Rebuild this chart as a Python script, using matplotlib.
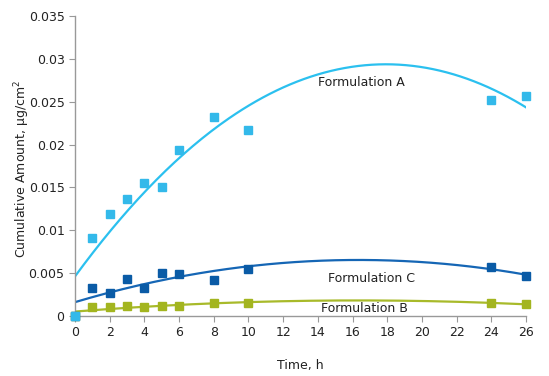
import numpy as np
import matplotlib
matplotlib.use("Agg")
import matplotlib.pyplot as plt

time_h = [0, 1, 2, 3, 4, 5, 6, 8, 10, 24, 26]
form_a = [0.0, 0.0091, 0.0119, 0.0137, 0.0155, 0.0151, 0.0194, 0.0232, 0.0217, 0.0252, 0.0257]
form_c = [0.0, 0.0033, 0.0027, 0.0043, 0.0033, 0.0050, 0.0049, 0.0042, 0.0055, 0.0057, 0.0047]
form_b = [0.0, 0.0010, 0.0010, 0.0012, 0.0010, 0.0012, 0.0012, 0.0015, 0.0015, 0.0015, 0.0014]

x_ticks = list(range(0, 27, 2))
y_ticks = [0, 0.005, 0.01, 0.015, 0.02, 0.025, 0.03, 0.035]
y_tick_labels = ["0", "0.005", "0.01", "0.015", "0.02", "0.025", "0.03", "0.035"]

col_a_pt, col_a_ln = "#33B9EA", "#2BC0EF"
col_c_pt, col_c_ln = "#0A5BA6", "#1566B5"
col_b_pt, col_b_ln = "#A3B51F", "#A8BA2A"

plt.rcParams['font.family'] = ['DejaVu Sans']
fig = plt.figure(figsize=(5.49, 3.76), dpi=100)
ax = fig.add_axes([0.1366, 0.1596, 0.8214, 0.7978])

t = np.array(time_h, dtype=float)
tt = np.linspace(0, 26, 200)
for vals, cl in [(form_b, col_b_ln), (form_c, col_c_ln), (form_a, col_a_ln)]:
    coef = np.polyfit(t, np.array(vals), 2)
    ax.plot(tt, np.polyval(coef, tt), color=cl, lw=1.6, zorder=2)
for vals, cp in [(form_b, col_b_pt), (form_c, col_c_pt), (form_a, col_a_pt)]:
    ax.plot(time_h, vals, ls='none', marker='s', ms=5.8, color=cp, mec=cp, zorder=3, clip_on=False)

ax.text(14.0, 0.0272, "Formulation A", fontsize=9, va='center', ha='left', color='#222222')
ax.text(14.6, 0.0044, "Formulation C", fontsize=9, va='center', ha='left', color='#222222')
ax.text(14.2, 0.0009, "Formulation B", fontsize=9, va='center', ha='left', color='#222222')

ax.set_xlim(0, 26)
ax.set_ylim(0, 0.035)
ax.set_xticks(x_ticks)
ax.set_xticklabels([str(v) for v in x_ticks])
ax.set_yticks(y_ticks)
ax.set_yticklabels(y_tick_labels)
for s in ['top', 'right']:
    ax.spines[s].set_visible(False)
for s in ['left', 'bottom']:
    ax.spines[s].set_color('#999999')
    ax.spines[s].set_linewidth(1.0)
ax.tick_params(axis='both', colors='#999999', labelcolor='#222222', labelsize=9, length=4, width=0.8)
ax.set_xlabel("Time, h", fontsize=9, color='#222222')
ax.set_ylabel("Cumulative Amount, µg/cm$^2$", fontsize=9, color='#222222')
ax.yaxis.set_label_coords(-0.095, 0.49)
ax.xaxis.set_label_coords(0.5, -0.143)

fig.savefig("out.png", dpi=100)
